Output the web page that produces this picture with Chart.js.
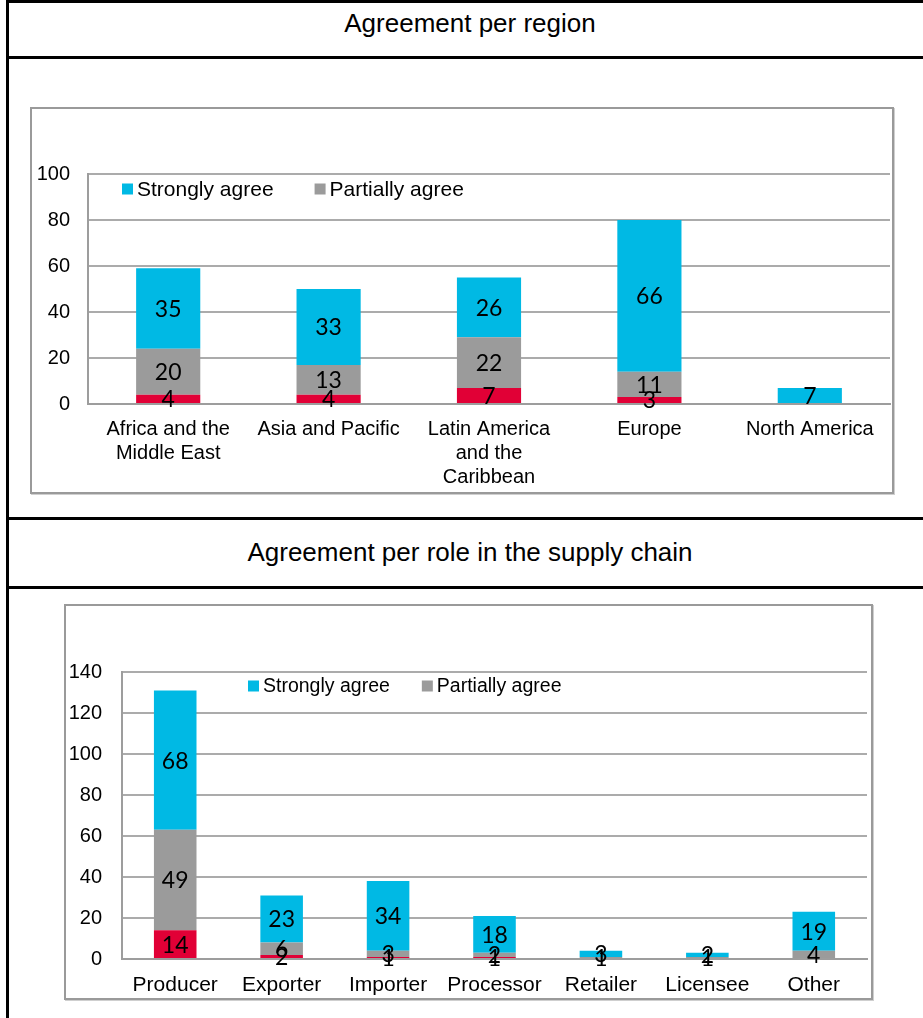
<!DOCTYPE html>
<html>
<head>
<meta charset="utf-8">
<script src="https://cdn.jsdelivr.net/npm/chart.js@4/dist/chart.umd.min.js"></script>
<style>
  html, body { margin: 0; padding: 0; background: #fff; width: 923px; height: 1018px; overflow: hidden; }
  .rule { position: absolute; background: #000; }
  .title { position: absolute; left: 9px; width: 922px; height: 30px; line-height: 30px; text-align: center;
           font-family: "Liberation Sans", Arial, sans-serif; font-size: 26px; color: #000; }
  .box { position: absolute; border: 2px solid #9a9a9a; box-shadow: 1px 1px 0 #cfcfcf; background: #fff; }
  .box canvas { position: absolute; left: 0; top: 0; }
</style>
</head>
<body>
<div class="rule" style="left:6px; top:0; width:917px; height:3px;"></div>
<div class="rule" style="left:6px; top:0; width:3px; height:1018px;"></div>
<div class="rule" style="left:6px; top:56px; width:917px; height:3px;"></div>
<div class="rule" style="left:6px; top:517px; width:917px; height:3px;"></div>
<div class="rule" style="left:6px; top:586px; width:917px; height:3px;"></div>

<div class="title" style="top:8px;">Agreement per region</div>
<div class="title" style="top:537px;">Agreement per role in the supply chain</div>

<div class="box" style="left:30px; top:107px; width:860px; height:383px;">
  <canvas id="regionChart" width="860" height="383"></canvas>
</div>
<div class="box" style="left:64px; top:604px; width:805px; height:392px;">
  <canvas id="roleChart" width="805" height="392"></canvas>
</div>

<script>
// Survey answers per region
const regionLabels = [["Africa and the", "Middle East"], "Asia and Pacific", ["Latin America", "and the", "Caribbean"], "Europe", "North America"];
const regionDisagree = [4, 4, 7, 3, null];
const regionPartially = [20, 13, 22, 11, null];
const regionStrongly = [35, 33, 26, 66, 7];
const regionMax = 100;

// Survey answers per role in the supply chain
const roleLabels = ["Producer", "Exporter", "Importer", "Processor", "Retailer", "Licensee", "Other"];
const roleDisagree = [14, 2, 1, 1, null, null, null];
const rolePartially = [49, 6, 3, 2, 1, 1, 4];
const roleStrongly = [68, 23, 34, 18, 3, 2, 19];
const roleMax = 140;

const tickStep = 20;
const seriesNames = ["Disagree", "Partially agree", "Strongly agree"];
const seriesColors = ["#e10036", "#9b9b9b", "#00b9e4"];

const AXIS_FONT = '"Liberation Sans", Arial, sans-serif';
const VALUE_FONT = 'Lato, "Open Sans", sans-serif';

// Writes each segment's value in the middle of its bar piece
const segmentLabels = {
  id: 'segmentLabels',
  afterDatasetsDraw(chart, args, opts) {
    const ctx = chart.ctx;
    ctx.save();
    ctx.font = opts.font;
    ctx.fillStyle = '#000';
    ctx.textAlign = 'center';
    ctx.textBaseline = 'middle';
    chart.data.datasets.forEach((ds, i) => {
      const meta = chart.getDatasetMeta(i);
      if (!chart.isDatasetVisible(i)) return;
      meta.data.forEach((bar, j) => {
        const v = ds.data[j];
        if (v === null || v === undefined) return;
        const p = bar.getProps(['x', 'y', 'base'], true);
        ctx.fillText(String(v), p.x, (p.y + p.base) / 2 + 1);
      });
    });
    ctx.restore();
  }
};

// Legend drawn inside the plot area, top row
const insideLegend = {
  id: 'insideLegend',
  afterDraw(chart, args, opts) {
    const ctx = chart.ctx;
    const area = chart.chartArea;
    let x = area.left + opts.offsetX;
    const y = area.top + opts.offsetY;
    ctx.save();
    ctx.font = opts.font;
    ctx.textAlign = 'left';
    ctx.textBaseline = 'middle';
    opts.order.forEach(i => {
      const ds = chart.data.datasets[i];
      ctx.fillStyle = ds.backgroundColor;
      ctx.fillRect(x, y - opts.box / 2, opts.box, opts.box);
      ctx.fillStyle = '#000';
      ctx.fillText(ds.label, x + opts.box + opts.gap, y + 1);
      x += opts.box + opts.gap + ctx.measureText(ds.label).width + opts.spacing;
    });
    ctx.restore();
  }
};

function buildChart(id, labels, disagree, partially, strongly, max, cfg) {
  const values = [disagree, partially, strongly];
  return new Chart(document.getElementById(id), {
    type: 'bar',
    data: {
      labels: labels,
      datasets: values.map((data, i) => ({
        label: seriesNames[i],
        data: data,
        backgroundColor: seriesColors[i],
        borderWidth: 0,
        categoryPercentage: 1,
        barPercentage: 0.4
      }))
    },
    plugins: [segmentLabels, insideLegend],
    options: {
      responsive: false,
      animation: false,
      devicePixelRatio: 1,
      layout: { padding: { top: cfg.padTop, right: cfg.padRight, left: 0, bottom: 0 } },
      plugins: {
        legend: { display: false },
        tooltip: { enabled: false },
        segmentLabels: { font: cfg.valueSize + 'px ' + VALUE_FONT },
        insideLegend: {
          font: cfg.legendSize + 'px ' + AXIS_FONT,
          order: [2, 1],
          offsetX: cfg.legendX,
          offsetY: cfg.legendY,
          box: 11,
          gap: 4,
          spacing: cfg.legendSpacing
        }
      },
      scales: {
        x: {
          stacked: true,
          grid: { display: false, drawTicks: false },
          border: { display: true, color: '#9d9d9d', width: 2 },
          ticks: {
            color: '#000',
            font: { family: AXIS_FONT, size: cfg.xSize, lineHeight: 1.2 },
            padding: cfg.xPad,
            maxRotation: 0,
            autoSkip: false
          },
          afterFit(scale) { scale.height = cfg.xHeight; }
        },
        y: {
          stacked: true,
          min: 0,
          max: max,
          ticks: {
            stepSize: tickStep,
            color: '#000',
            font: { family: AXIS_FONT, size: cfg.ySize },
            padding: cfg.yPad
          },
          grid: { color: '#ababab', lineWidth: 2, drawTicks: false },
          border: { display: true, color: '#9d9d9d', width: 2 },
          afterFit(scale) { scale.width = cfg.yWidth; }
        }
      }
    }
  });
}

buildChart('regionChart', regionLabels, regionDisagree, regionPartially, regionStrongly, regionMax, {
  padTop: 65, padRight: 2, yWidth: 56, xHeight: 88,
  xSize: 20, ySize: 20, xPad: 13, yPad: 18,
  valueSize: 23, legendSize: 21,
  legendX: 34, legendY: 15, legendSpacing: 41
});

buildChart('roleChart', roleLabels, roleDisagree, rolePartially, roleStrongly, roleMax, {
  padTop: 66, padRight: 4, yWidth: 56, xHeight: 39,
  xSize: 21, ySize: 20, xPad: 14, yPad: 20,
  valueSize: 23, legendSize: 19.5,
  legendX: 126, legendY: 14, legendSpacing: 32
});
</script>
</body>
</html>
